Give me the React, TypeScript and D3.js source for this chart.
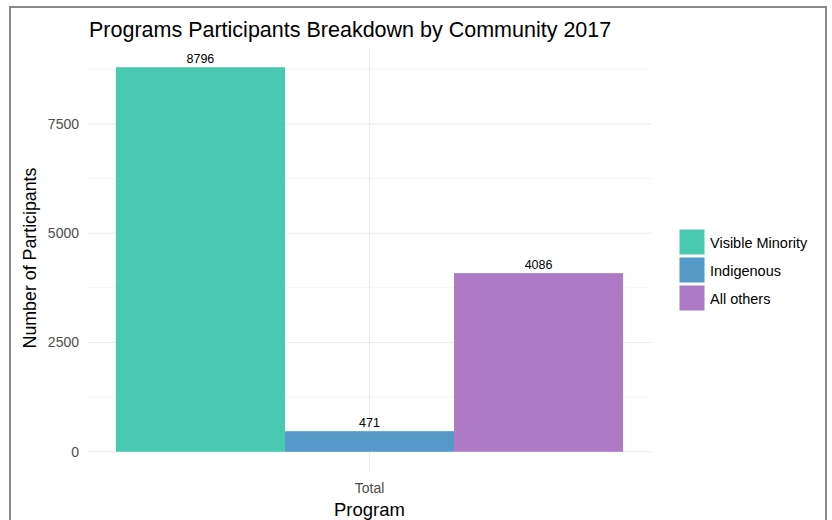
import React from "react";
import * as d3 from "d3";

const categories = ["Total"];
const groups = ["Visible Minority", "Indigenous", "All others"];
const values = [8796, 471, 4086];
const colors = ["#48C9B0", "#5499C7", "#AF7AC5"];
const yTicks = [0, 2500, 5000, 7500];
const yMinor = [1250, 3750, 6250, 8750];

export default function App() {
  const W = 832, H = 520;
  const px0 = 88, px1 = 651, py0 = 48, py1 = 471;
  const maxV = d3.max(values)!;
  const pad = maxV * 0.05;
  const y = d3.scaleLinear().domain([-pad, maxV + pad]).range([py1, py0]);
  const x = d3.scaleBand().domain(categories).range([px0, px1]).paddingInner(0).paddingOuter(0.055);
  const inner = d3.scaleBand().domain(groups).range([0, x.bandwidth()]);
  const font = "'Liberation Sans', Arial, sans-serif";
  return (
    <svg width={W} height={H} style={{ position: "absolute", left: 0, top: 0, display: "block", background: "#fff" }} fontFamily={font}>
      <rect x={10} y={7} width={816} height={530} fill="#fff" stroke="#888" strokeWidth={2} />
      {yMinor.map((t) => (
        <line key={"m" + t} x1={px0} x2={px1} y1={y(t)} y2={y(t)} stroke="#f2f2f2" strokeWidth={0.8} />
      ))}
      {yTicks.map((t) => (
        <line key={"g" + t} x1={px0} x2={px1} y1={y(t)} y2={y(t)} stroke="#ebebeb" strokeWidth={1.1} />
      ))}
      {categories.map((c) => (
        <line key={c} x1={x(c)! + x.bandwidth() / 2} x2={x(c)! + x.bandwidth() / 2} y1={py0} y2={py1} stroke="#ebebeb" strokeWidth={1.1} />
      ))}
      {categories.map((c) =>
        groups.map((g, i) => (
          <g key={g}>
            <rect x={x(c)! + inner(g)!} width={inner.bandwidth()} y={y(values[i])} height={y(0) - y(values[i])} fill={colors[i]} />
            <text x={x(c)! + inner(g)! + inner.bandwidth() / 2} y={y(values[i]) - 4} textAnchor="middle" fontSize={12.5} fill="#000">
              {values[i]}
            </text>
          </g>
        ))
      )}
      {yTicks.map((t) => (
        <text key={"t" + t} x={79} y={y(t)} dy="0.35em" textAnchor="end" fontSize={14} fill="#4d4d4d">
          {t}
        </text>
      ))}
      {categories.map((c) => (
        <text key={"xt" + c} x={x(c)! + x.bandwidth() / 2} y={493} textAnchor="middle" fontSize={14} fill="#4d4d4d">
          {c}
        </text>
      ))}
      <text x={(px0 + px1) / 2} y={516} textAnchor="middle" fontSize={18.5} fill="#000">Program</text>
      <text transform={`translate(36,258) rotate(-90)`} textAnchor="middle" fontSize={17.8} fill="#000">
        Number of Participants
      </text>
      <text x={89} y={37} fontSize={21.5} fill="#000">Programs Participants Breakdown by Community 2017</text>
      {groups.map((g, i) => (
        <g key={"l" + g} transform={`translate(679,${229 + i * 28})`}>
          <rect width={26} height={26} fill={colors[i]} stroke="#fff" strokeWidth={1} />
          <text x={31} y={14} dy="0.35em" fontSize={14.5} fill="#000">{g}</text>
        </g>
      ))}
    </svg>
  );
}
